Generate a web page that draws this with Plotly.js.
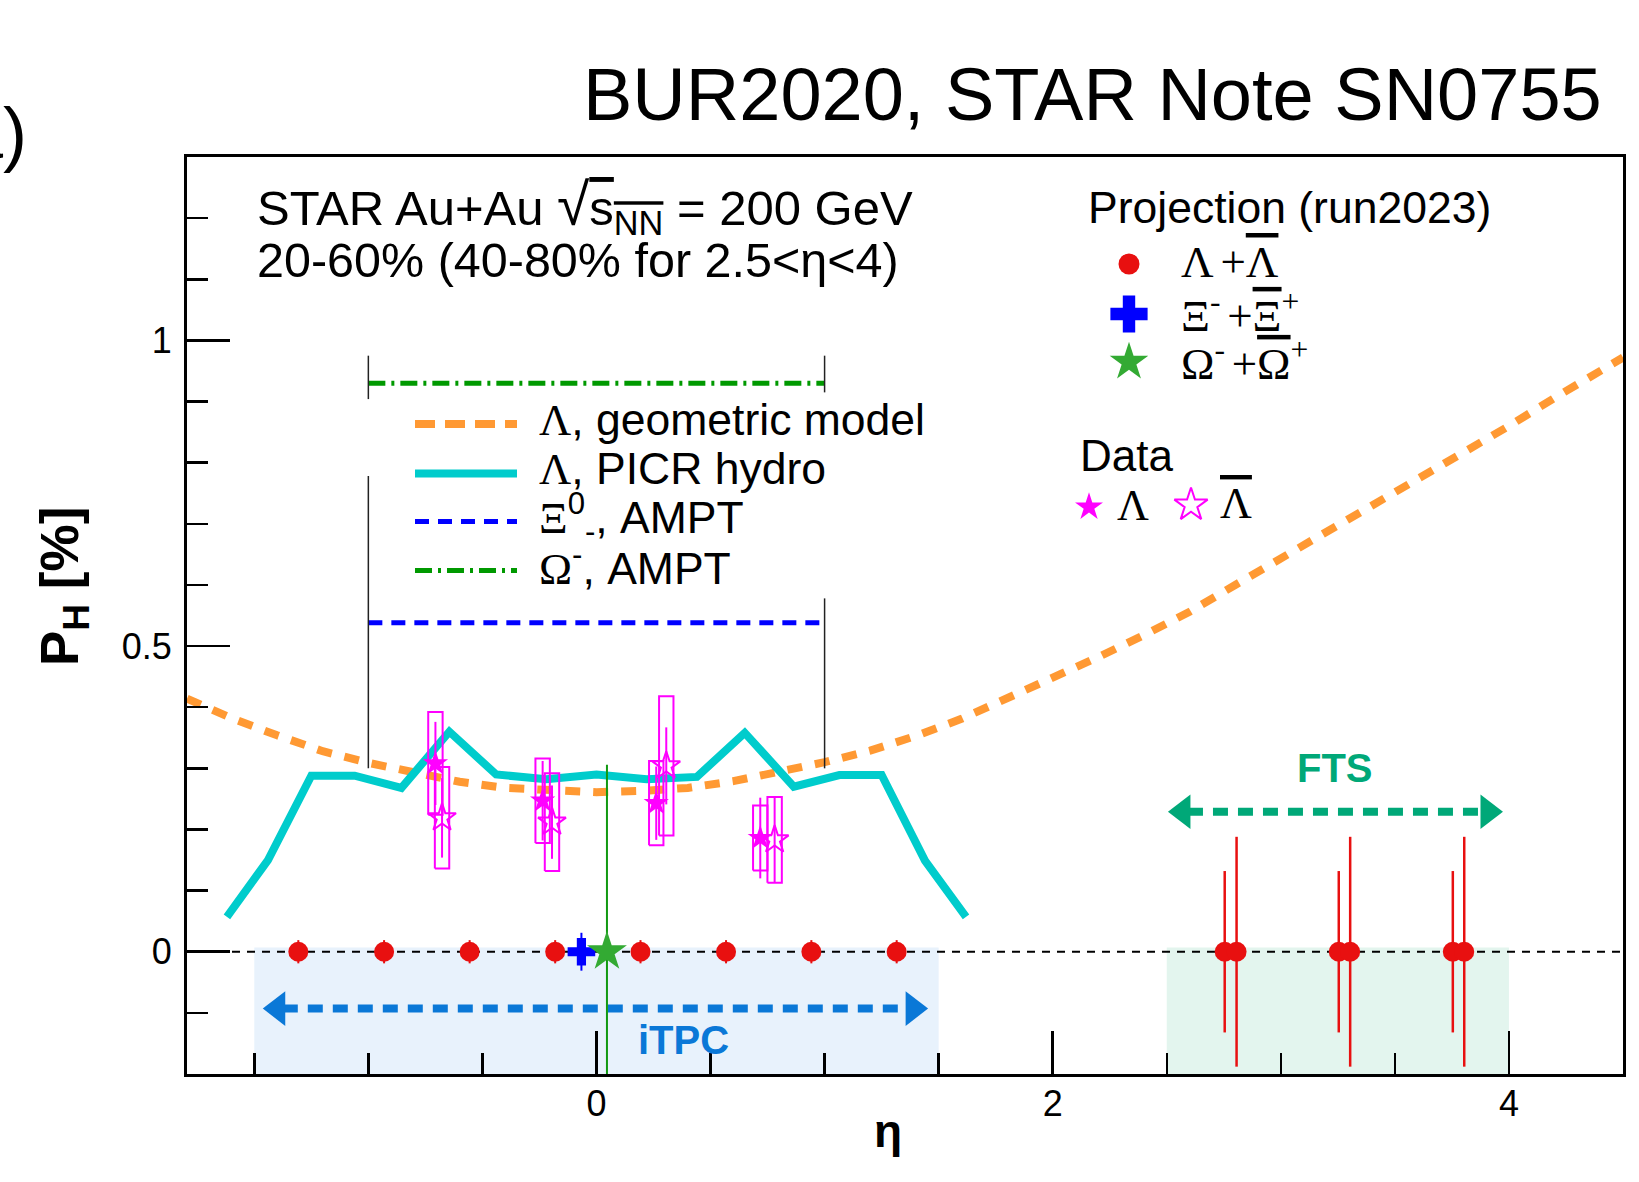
<!DOCTYPE html>
<html><head><meta charset="utf-8">
<script src="https://cdn.plot.ly/plotly-3.0.1.min.js"></script>
<style>html,body{margin:0;padding:0;background:#fff;} #chart{width:1639px;height:1182px;}</style>
</head><body><div id="chart"></div>
<script>
// ---------------- data ----------------
// Lambda, geometric model
const geoEta = [-1.795,-1.6,-1.4,-1.2,-1.0,-0.8,-0.6,-0.4,-0.2,0,0.2,0.4,0.6,0.8,1.0,1.2,1.4,1.6,1.8,2.0,2.2,2.4,2.6,2.8,3.0,3.2,3.4,3.6,3.8,4.0,4.2,4.4,4.5];
const geoP   = [0.414,0.382,0.354,0.328,0.309,0.293,0.278,0.268,0.263,0.261,0.263,0.268,0.279,0.294,0.310,0.329,0.353,0.381,0.414,0.447,0.482,0.518,0.556,0.600,0.643,0.685,0.730,0.774,0.815,0.860,0.906,0.950,0.972];
// Lambda, PICR hydro
const hydroEta = [-1.62,-1.44,-1.25,-1.06,-0.855,-0.645,-0.44,-0.22,0,0.22,0.44,0.65,0.865,1.065,1.25,1.44,1.62];
const hydroP   = [0.057,0.150,0.288,0.288,0.268,0.360,0.290,0.282,0.290,0.282,0.286,0.358,0.270,0.289,0.289,0.149,0.057];
// AMPT
const amptEta = [-1, 1];
const xiAmptP = [0.538, 0.538];
const omAmptP = [0.930, 0.930];
// thin vertical guides at eta = +-1
const guideEta = [-1,-1,null,-1,-1,null,1,1,null,1,1];
const guideP   = [0.975,0.904,null,0.778,0.300,null,0.975,0.915,null,0.578,0.300];
// zero reference
const zeroEta = [-1.795, 4.5];
const zeroP = [0, 0];
// Projection (run2023)
const projLamEta = [-1.307,-0.931,-0.556,-0.181,0.193,0.568,0.942,1.316];
const projLamP   = [0,0,0,0,0,0,0,0];
const projLamErr = [0.019,0.019,0.019,0.019,0.019,0.019,0.019,0.019];
const ftsEtaA = [2.754, 3.254, 3.754];
const ftsPA   = [0, 0, 0];
const ftsErrA = [0.132, 0.132, 0.132];
const ftsEtaB = [2.806, 3.304, 3.804];
const ftsPB   = [0, 0, 0];
const ftsErrB = [0.188, 0.188, 0.188];
const projXiEta = [-0.066], projXiP = [0], projXiErr = [0.031];
const projOmEta = [0.046],  projOmP = [0], projOmErr = [0.306];
// Data
const lamEta  = [-0.706,-0.236,0.262,0.718];
const lamP    = [0.308,0.247,0.243,0.186];
const lamStat = [0.068,0.065,0.060,0.066];
const lamSys  = [0.084,0.069,0.069,0.053];
const alamEta  = [-0.677,-0.195,0.306,0.781];
const alamP    = [0.219,0.212,0.304,0.183];
const alamStat = [0.065,0.060,0.063,0.069];
const alamSys  = [0.083,0.080,0.114,0.070];
// acceptance regions and arrows
const itpcEta = [-1.5, 1.5];
const ftsEta  = [2.5, 4.0];
const regionTop = [0.007];
const itpcArrowEta = [-1.473, 1.464], itpcArrowP = [-0.093];
const ftsArrowEta  = [2.495, 3.984],  ftsArrowP  = [0.229];

// ---------------- layout geometry ----------------
const W=1639, H=1182, L=187, R=16, T=157, B=108;
const PW=W-L-R, PH=H-T-B;
const xRange=[-1.795,4.5], yRange=[-0.2,1.3];
const etaPerPx = (xRange[1]-xRange[0])/PW;
function px(xf){return (xf-L)/PW;}
function py(yf){return (H-B-yf)/PH;}
const SANS="Liberation Sans, Arial, Helvetica, sans-serif";
const MAG='#ff00ff', RED='#e81010', ITPC='#0a78d7', FTSC='#00a878';
const g = s => `<span style="font-family:'Liberation Serif'">${s}</span>`;
const ov = s => `<span style="text-decoration:overline">${s}</span>`;

function boxes(eta,p,sys,w){
  const x=[],y=[];
  eta.forEach((e,i)=>{x.push(e-w,e+w,e+w,e-w,e-w,null);y.push(p[i]-sys[i],p[i]-sys[i],p[i]+sys[i],p[i]+sys[i],p[i]-sys[i],null);});
  return {x,y};
}
const bw = 7.2*etaPerPx;
const lb = boxes(lamEta,lamP,lamSys,bw), ab = boxes(alamEta,alamP,alamSys,bw);

const headSize=30, headOff=(headSize/2)*1.1547*etaPerPx, baseOff=(headSize/2)*1.655*etaPerPx;
function arrow(etas,p,color){
  return [
    {x:[etas[0]+baseOff*0.9, etas[1]-baseOff*0.9], y:[p[0],p[0]], mode:'lines', line:{color,width:8,dash:'15px,10px'}},
    {x:[etas[0]+headOff, etas[1]-headOff], y:[p[0],p[0]], mode:'markers', marker:{symbol:['triangle-left','triangle-right'], size:headSize, color}}
  ];
}

const traces = [
  {x:zeroEta, y:zeroP, mode:'lines', line:{color:'#000',width:2,dash:'8px,7px'}},
  {x:geoEta, y:geoP, mode:'lines', line:{color:'#ff9933',width:8,dash:'15px,13px'}},
  {x:hydroEta, y:hydroP, mode:'lines', line:{color:'#00cccc',width:8}},
  {x:amptEta, y:xiAmptP, mode:'lines', line:{color:'#0000ff',width:5,dash:'14px,9px'}},
  {x:amptEta, y:omAmptP, mode:'lines', line:{color:'#009900',width:5,dash:'17px,6px,3px,6px'}},
  {x:guideEta, y:guideP, mode:'lines', line:{color:'#222',width:1.5}},
  ...arrow(itpcArrowEta, itpcArrowP, ITPC),
  ...arrow(ftsArrowEta, ftsArrowP, FTSC),
  {x:projLamEta, y:projLamP, mode:'markers', marker:{symbol:'circle',size:20,color:RED},
   error_y:{type:'data',array:projLamErr,color:RED,thickness:2,width:0}},
  {x:ftsEtaA, y:ftsPA, mode:'markers', marker:{symbol:'circle',size:20,color:RED},
   error_y:{type:'data',array:ftsErrA,color:RED,thickness:2.5,width:0}},
  {x:ftsEtaB, y:ftsPB, mode:'markers', marker:{symbol:'circle',size:20,color:RED},
   error_y:{type:'data',array:ftsErrB,color:RED,thickness:2.5,width:0}},
  {x:lb.x, y:lb.y, mode:'lines', line:{color:MAG,width:2}},
  {x:ab.x, y:ab.y, mode:'lines', line:{color:MAG,width:2}},
  {x:lamEta, y:lamP, mode:'markers', marker:{symbol:'star',size:19,color:MAG},
   error_y:{type:'data',array:lamStat,color:MAG,thickness:2,width:0}},
  {x:alamEta, y:alamP, mode:'markers', marker:{symbol:'star-open',size:21,color:MAG,line:{color:MAG,width:2}},
   error_y:{type:'data',array:alamStat,color:MAG,thickness:2,width:0}},
  {x:projXiEta, y:projXiP, mode:'markers', marker:{symbol:'cross',size:23,color:'#0000ff'},
   error_y:{type:'data',array:projXiErr,color:'#0000ff',thickness:2,width:0}},
  {x:projOmEta, y:projOmP, mode:'markers', marker:{symbol:'star',size:30,color:'#33aa33'},
   error_y:{type:'data',array:projOmErr,color:'#119911',thickness:2,width:0}},
];
traces.forEach(t=>{t.xaxis='x';t.yaxis='y';t.showlegend=false;t.hoverinfo='skip';t.cliponaxis=true;});

// legend keys (pixel overlay axes)
const key = (x,y,marker)=>({x:[x],y:[y],xaxis:'x2',yaxis:'y2',mode:'markers',marker,showlegend:false,hoverinfo:'skip',cliponaxis:false});
const keyLine = (y,line)=>({x:[415,517],y:[y,y],xaxis:'x2',yaxis:'y2',mode:'lines',line,showlegend:false,hoverinfo:'skip',cliponaxis:false});
traces.push(
  key(1129,264,{symbol:'circle',size:21,color:RED}),
  key(1129,314,{symbol:'cross',size:31,color:'#0000ff'}),
  key(1129,362,{symbol:'star',size:29,color:'#33aa33'}),
  key(1089,507,{symbol:'star',size:21,color:MAG}),
  key(1191,505,{symbol:'star-open',size:25,color:MAG,line:{color:MAG,width:2}}),
  keyLine(424,{color:'#ff9933',width:8,dash:'20px,10px'}),
  keyLine(473.5,{color:'#00cccc',width:8}),
  keyLine(521.5,{color:'#0000ff',width:5,dash:'14px,9px'}),
  keyLine(570.5,{color:'#009900',width:5,dash:'17px,6px,3px,6px'})
);

function ann(text,xf,yf,size,opts){
  return Object.assign({xref:'paper',yref:'paper',x:px(xf),y:py(yf),text,showarrow:false,
    xanchor:'left',yanchor:'middle',borderpad:0,font:{family:SANS,size,color:'#000'}},opts||{});
}
const gap = '<span style="font-size:60%"> </span>';
const annotations = [
  ann('BUR2020, STAR Note SN0755',1603,94,74,{xanchor:'right'}),
  ann('(a)',28,133,72,{xanchor:'right'}),
  ann('STAR Au+Au <span style="font-size:120%">√</span>'+ov('s<sub>NN</sub>')+' = 200 GeV',256,207,49),
  ann('20-60% (40-80% for 2.5&lt;η&lt;4)',256,260,48.5),
  ann('Projection (run2023)',1087,208,44.5),
  ann(g('Λ'+gap+'+'+ov('Λ')),1180,262,45),
  ann(g('Ξ<sup>-</sup>'+gap+'+'+ov('Ξ')+'<sup>+</sup>'),1180,312,45),
  ann(g('Ω<sup>-</sup>'+gap+'+'+ov('Ω')+'<sup>+</sup>'),1180,360,45),
  ann('Data',1079,455,44),
  ann(g('Λ'),1116,505,44),
  ann(g(ov('Λ')),1219,503,44),
  ann(g('Λ')+', geometric model',538,420,44.5),
  ann(g('Λ')+', PICR hydro',538,469,44.5),
  ann(g('Ξ')+'<sup>0</sup><sub>-</sub>, AMPT',538,517,44.5),
  ann(g('Ω')+'<sup>-</sup>, AMPT',538,565,44.5),
  ann('<b>iTPC</b>',683,1040,40,{xanchor:'center',font:{family:SANS,size:40,color:ITPC}}),
  ann('<b>FTS</b>',1335,768,40,{xanchor:'center',font:{family:SANS,size:40,color:FTSC}}),
  ann('<b>η</b>',888,1131,46,{xanchor:'center'}),
  ann('<b>P<sub>H</sub> [%]</b>',63,587,53,{xanchor:'center',textangle:-90}),
];

const shapes = [
  {type:'rect',xref:'x',yref:'y',x0:itpcEta[0],x1:itpcEta[1],y0:yRange[0],y1:regionTop[0],fillcolor:'#e8f2fc',line:{width:0},layer:'below'},
  {type:'rect',xref:'x',yref:'y',x0:ftsEta[0],x1:ftsEta[1],y0:yRange[0],y1:regionTop[0],fillcolor:'#e3f5ee',line:{width:0},layer:'below'},
];

const axisCommon = {showgrid:false,zeroline:false,showline:true,linecolor:'#000',linewidth:3,mirror:true,
  ticks:'inside',ticklen:43,tickwidth:2.5,tickcolor:'#000',
  tickfont:{family:SANS,size:36,color:'#000'}};
const layout = {
  width:W,height:H,margin:{l:L,r:R,t:T,b:B},paper_bgcolor:'#fff',plot_bgcolor:'rgba(0,0,0,0)',
  showlegend:false,
  xaxis:Object.assign({},axisCommon,{range:xRange,dtick:2,tick0:0,ticklabelstandoff:-4,
    minor:{dtick:0.5,tick0:0,ticks:'inside',ticklen:21,tickwidth:2.5,tickcolor:'#000'}}),
  yaxis:Object.assign({},axisCommon,{range:yRange,dtick:0.5,tick0:0,ticklabelstandoff:5,
    minor:{dtick:0.1,tick0:0,ticks:'inside',ticklen:21,tickwidth:2.5,tickcolor:'#000'}}),
  xaxis2:{overlaying:'x',range:[L,W-R],visible:false,anchor:'y2',fixedrange:true},
  yaxis2:{overlaying:'y',range:[H-B,T],visible:false,anchor:'x2',fixedrange:true},
  annotations,shapes
};
Plotly.newPlot('chart',traces,layout,{displayModeBar:false,staticPlot:true});
</script></body></html>
